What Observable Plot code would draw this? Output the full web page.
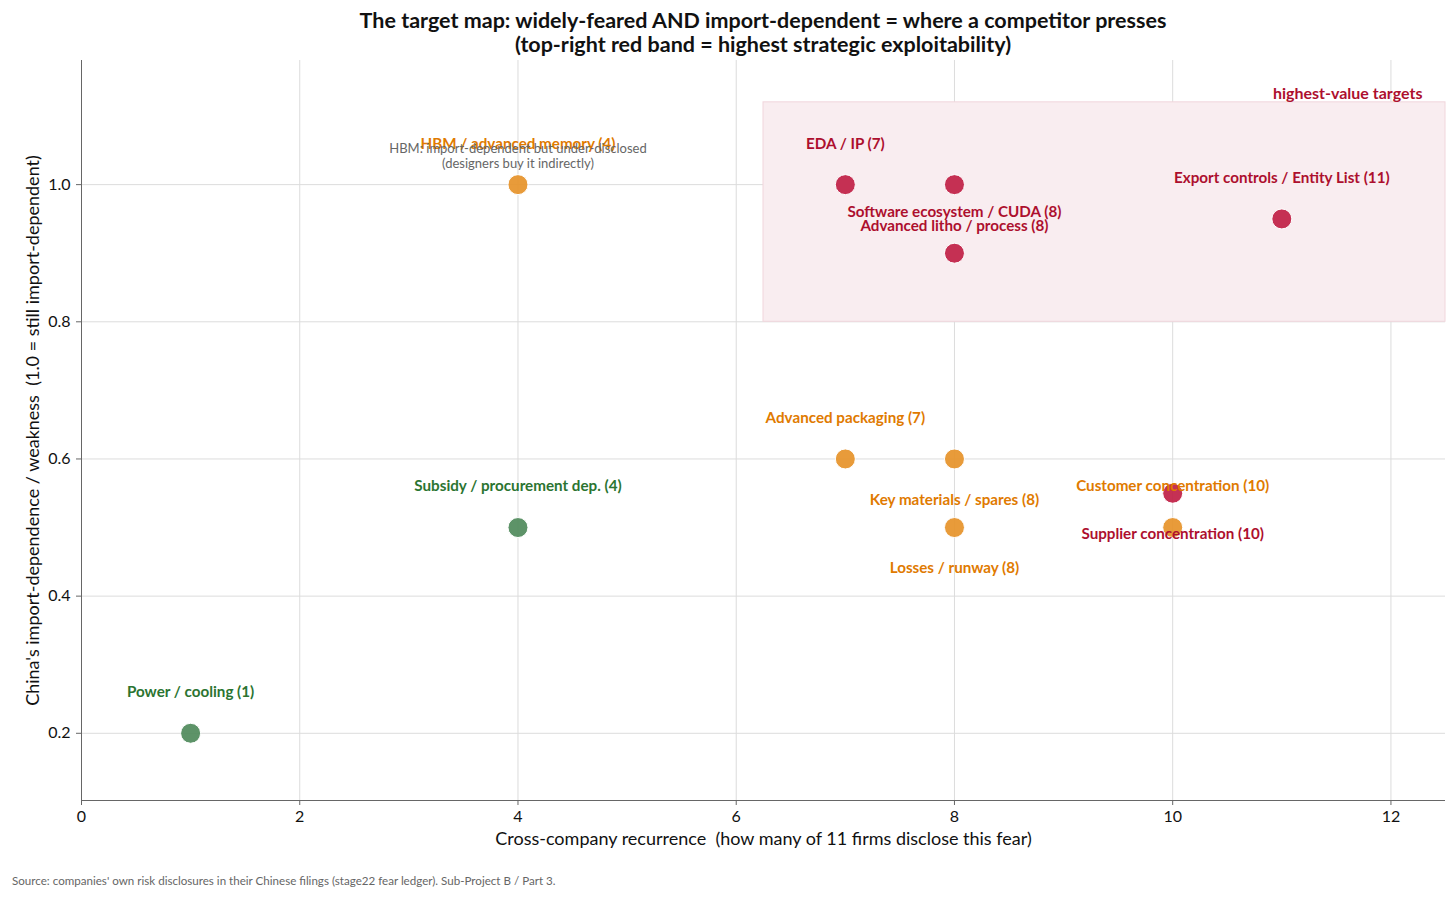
<!DOCTYPE html>
<html>
<head>
<meta charset="utf-8">
<script src="https://cdn.jsdelivr.net/npm/d3@7"></script>
<script src="https://cdn.jsdelivr.net/npm/@observablehq/plot@0.6"></script>
<style>
  html, body { margin: 0; padding: 0; background: #fff; }
  body { width: 1456px; font-family: Lato, "Open Sans", sans-serif; }
  #title { box-sizing: border-box; height: 56px; padding-left: 81px; padding-right: 11px; padding-top: 8px;
           text-align: center; font-weight: 700; font-size: 21.5px; line-height: 24px; color: #111; }
  #chart svg { display: block; }
  #caption { padding-left: 12px; padding-top: 14px; font-size: 11.6px; color: #666; }
</style>
</head>
<body>
<div id="title">The target map: widely-feared AND import-dependent = where a competitor presses<br>(top-right red band = highest strategic exploitability)</div>
<div id="chart"></div>
<div id="caption">Source: companies' own risk disclosures in their Chinese filings (stage22 fear ledger). Sub-Project B / Part 3.</div>
<script>
// ---- data ----
const names = [
  "Power / cooling (1)",
  "Subsidy / procurement dep. (4)",
  "HBM / advanced memory (4)",
  "EDA / IP (7)",
  "Advanced litho / process (8)",
  "Software ecosystem / CUDA (8)",
  "Export controls / Entity List (11)",
  "Advanced packaging (7)",
  "Key materials / spares (8)",
  "Losses / runway (8)",
  "Customer concentration (10)",
  "Supplier concentration (10)"
];
const recurrence = [1, 4, 4, 7, 8, 8, 11, 7, 8, 8, 10, 10];
const weakness   = [0.2, 0.5, 1.0, 1.0, 1.0, 0.9, 0.95, 0.6, 0.6, 0.5, 0.5, 0.55];
const tier       = ["low", "low", "mid", "high", "high", "high", "high", "mid", "mid", "mid", "mid", "high"];
const xTicks = [0, 2, 4, 6, 8, 10, 12];
const yTicks = [0.2, 0.4, 0.6, 0.8, 1.0];
const bandX = [6.25, 12.5];
const bandY = [0.8, 1.12];
const bandLabel = "highest-value targets";
const hbmNote = ["HBM: import-dependent but under-disclosed", "(designers buy it indirectly)"];
const xLabel = "Cross-company recurrence  (how many of 11 firms disclose this fear)";
const yLabel = "China's import-dependence / weakness  (1.0 = still import-dependent)";

// label placement (labels drawn below their dot)
const labelsBelow = new Set([
  "Advanced litho / process (8)", "Key materials / spares (8)",
  "Losses / runway (8)", "Supplier concentration (10)"
]);

const rows = names.map((n, i) => ({name: n, x: recurrence[i], y: weakness[i], tier: tier[i]}));
const rowsAbove = rows.filter(d => !labelsBelow.has(d.name));
const rowsBelow = rows.filter(d => labelsBelow.has(d.name));
const hbm = rows[2];
const dotColor = {high: "#c01f45", mid: "#e69229", low: "#4f8a5b"};
const textColor = {high: "#ad0f2e", mid: "#e07a00", low: "#2b7431"};

const font = "Lato, 'Open Sans', sans-serif";
const yMin = 0.102, yMax = 1.181;
const labelOpts = {x: "x", y: "y", text: "name", fill: d => textColor[d.tier], fontWeight: 700, fontSize: 15.2};

const chart = Plot.plot({
  width: 1456,
  height: 804,
  marginLeft: 81,
  marginRight: 11,
  marginTop: 4,
  marginBottom: 60,
  style: {fontFamily: font, background: "#fff", overflow: "visible"},
  x: {domain: [0, 12.5], label: null},
  y: {domain: [yMin, yMax], label: null},
  marks: [
    Plot.gridX(xTicks, {stroke: "#dcdcdc", strokeOpacity: 1}),
    Plot.gridY(yTicks, {stroke: "#dcdcdc", strokeOpacity: 1}),
    Plot.rect([{x1: bandX[0], x2: bandX[1], y1: bandY[0], y2: bandY[1]}],
      {x1: "x1", x2: "x2", y1: "y1", y2: "y2", fill: "#f9edf0", stroke: "#f1d6dc", strokeWidth: 1}),
    Plot.text([bandLabel], {x: bandX[1], y: bandY[1], text: d => d, textAnchor: "end", dx: -23, dy: -8,
      fill: "#ad0f2e", fontWeight: 700, fontSize: 16}),
    Plot.ruleX([0], {stroke: "#666", strokeWidth: 1}),
    Plot.ruleY([yMin], {stroke: "#666", strokeWidth: 1}),
    Plot.axisX({ticks: xTicks, tickFormat: d => String(d), tickSize: 5, tickPadding: 5, fontSize: 16, stroke: "#666", fill: "#111"}),
    Plot.axisY({ticks: yTicks, tickFormat: d => d.toFixed(1), tickSize: 5, tickPadding: 6, fontSize: 16, stroke: "#666", fill: "#111"}),
    Plot.text([xLabel], {frameAnchor: "bottom", dy: 44, text: d => d, fontSize: 18, fill: "#111"}),
    Plot.text([yLabel], {frameAnchor: "left", textAnchor: "middle", dx: -48, rotate: -90, text: d => d, fontSize: 18, fill: "#111"}),
    Plot.dot(rows, {x: "x", y: "y", r: 10, fill: d => dotColor[d.tier], fillOpacity: 0.92, stroke: "#fff", strokeWidth: 1}),
    Plot.text(rowsAbove, {...labelOpts, dy: -41}),
    Plot.text(rowsBelow, {...labelOpts, dy: 41}),
    Plot.text([hbmNote[0]], {x: () => hbm.x, y: () => hbm.y, text: d => d, dy: -36, fill: "#666", fontSize: 13}),
    Plot.text([hbmNote[1]], {x: () => hbm.x, y: () => hbm.y, text: d => d, dy: -21, fill: "#666", fontSize: 13})
  ]
});
document.getElementById("chart").appendChild(chart);
</script>
</body>
</html>
